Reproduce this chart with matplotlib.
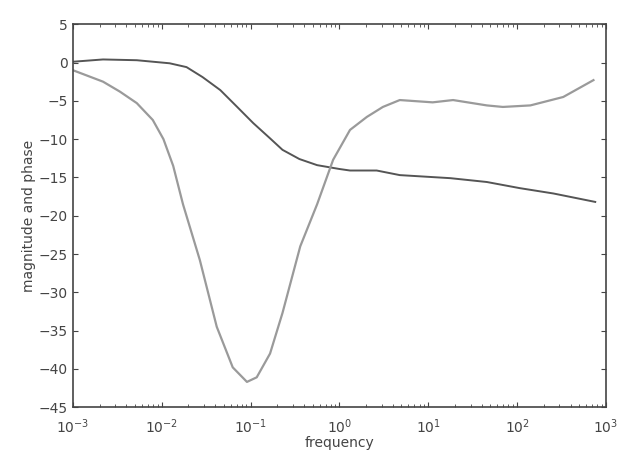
import numpy as np
import matplotlib
matplotlib.use("Agg")
import matplotlib.pyplot as plt

# magnitude curve (dark), log10 frequency vs value
mag_logf = [-3.0, -2.66, -2.28, -1.91, -1.72, -1.54, -1.34, -1.15, -0.97, -0.78,
            -0.64, -0.45, -0.25, 0.0, 0.12, 0.42, 0.68, 1.25, 1.66, 2.03, 2.41, 2.88]
mag_val = [0.1, 0.4, 0.3, -0.1, -0.6, -1.9, -3.6, -5.8, -7.9, -9.9,
           -11.4, -12.6, -13.4, -13.9, -14.1, -14.1, -14.7, -15.1, -15.6, -16.4, -17.1, -18.2]

# phase curve (light)
ph_logf = [-3.0, -2.66, -2.47, -2.28, -2.10, -1.98, -1.87, -1.76, -1.57, -1.38,
           -1.20, -1.04, -0.93, -0.78, -0.64, -0.44, -0.25, -0.07, 0.12, 0.31,
           0.49, 0.68, 1.05, 1.28, 1.66, 1.84, 2.15, 2.52, 2.86]
ph_val = [-1.0, -2.5, -3.8, -5.3, -7.5, -10.0, -13.5, -18.5, -25.8, -34.5,
          -39.8, -41.7, -41.1, -38.0, -32.7, -24.0, -18.5, -12.7, -8.8, -7.1,
          -5.8, -4.9, -5.2, -4.9, -5.6, -5.8, -5.6, -4.5, -2.3]

xticks = [1e-3, 1e-2, 1e-1, 1e0, 1e1, 1e2, 1e3]
xticklabels = [r'$10^{-3}$', r'$10^{-2}$', r'$10^{-1}$', r'$10^{0}$', r'$10^{1}$', r'$10^{2}$', r'$10^{3}$']
yticks = list(range(-45, 6, 5))

fig = plt.figure(figsize=(6.17, 4.57), dpi=100)
ax = fig.add_axes([0.118, 0.109, 0.864, 0.838])

ax.plot(10 ** np.array(mag_logf), mag_val, color='#555555', lw=1.4)
ax.plot(10 ** np.array(ph_logf), ph_val, color='#9a9a9a', lw=1.6)

ax.set_xscale('log')
ax.set_xlim(1e-3, 1e3)
ax.set_ylim(-45, 5)
ax.set_xticks(xticks)
ax.set_xticklabels(xticklabels)
ax.set_yticks(yticks)
ax.tick_params(direction='in', which='both', top=True, right=True,
               colors='#444444', labelsize=10)
ax.tick_params(axis='x', pad=7)
for s in ax.spines.values():
    s.set_color('#444444')
    s.set_linewidth(1.2)

ax.set_xlabel('frequency', color='#444444', fontsize=10, labelpad=0)
ax.set_ylabel('magnitude and phase', color='#444444', fontsize=10, labelpad=2)

fig.savefig('out.png', dpi=100)
